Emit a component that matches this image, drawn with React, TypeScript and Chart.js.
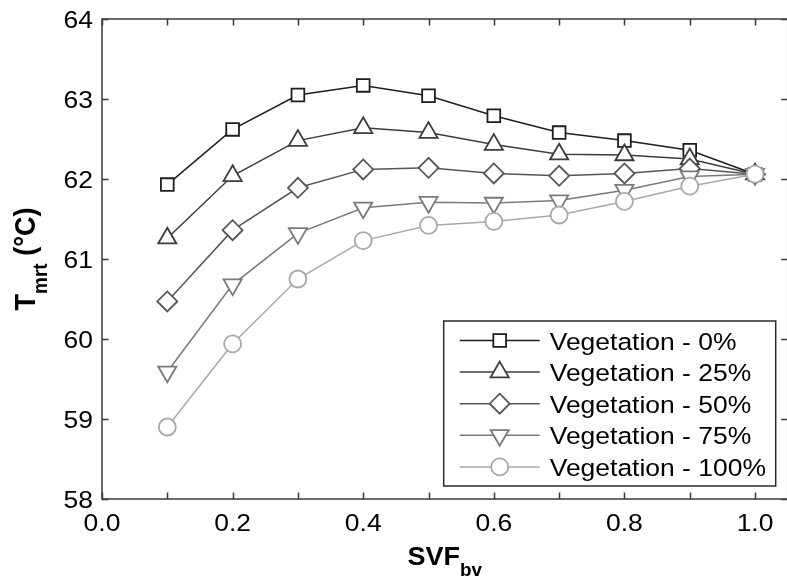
import React, { useEffect, useRef } from "react";
import { Chart, registerables } from "chart.js";

Chart.register(...registerables);

const svfValues = [0.1, 0.2, 0.3, 0.4, 0.5, 0.6, 0.7, 0.8, 0.9, 1.0];
const veg0 = [61.93, 62.62, 63.05, 63.17, 63.04, 62.79, 62.58, 62.48, 62.36, 62.06];
const veg25 = [61.26, 62.04, 62.48, 62.64, 62.58, 62.43, 62.31, 62.3, 62.25, 62.06];
const veg50 = [60.47, 61.36, 61.89, 62.12, 62.14, 62.07, 62.04, 62.07, 62.13, 62.06];
const veg75 = [59.59, 60.68, 61.32, 61.64, 61.71, 61.7, 61.73, 61.86, 62.03, 62.06];
const veg100 = [58.9, 59.94, 60.75, 61.23, 61.42, 61.47, 61.55, 61.72, 61.91, 62.06];

const seriesLabels = [
  "Vegetation - 0%",
  "Vegetation - 25%",
  "Vegetation - 50%",
  "Vegetation - 75%",
  "Vegetation - 100%",
];
const seriesValues = [veg0, veg25, veg50, veg75, veg100];
const seriesColors = ["#1e1e1e", "#3c3c3c", "#565656", "#7a7a7a", "#a9a9a9"];
const seriesMarkers = ["square", "triangle", "diamond", "down", "circle"];

const xTickValues = [0, 0.1, 0.2, 0.3, 0.4, 0.5, 0.6, 0.7, 0.8, 0.9, 1.0];
const xTickLabels = ["0.0", "", "0.2", "", "0.4", "", "0.6", "", "0.8", "", "1.0"];
const yTickValues = [58, 59, 60, 61, 62, 63, 64];
const yTickLabels = ["58", "59", "60", "61", "62", "63", "64"];

const FONT = "'Liberation Sans', Arial, Helvetica, sans-serif";
const STRETCH = 1.08;

function markerStyle(m: string) {
  switch (m) {
    case "square":
      return { pointStyle: "rect", radius: 9, rotation: 0 };
    case "triangle":
      return { pointStyle: "triangle", radius: 10.5, rotation: 0 };
    case "diamond":
      return { pointStyle: "rectRot", radius: 10, rotation: 0 };
    case "down":
      return { pointStyle: "triangle", radius: 10.5, rotation: 180 };
    default:
      return { pointStyle: "circle", radius: 8.5, rotation: 0 };
  }
}

function drawMarker(ctx: CanvasRenderingContext2D, m: string, x: number, y: number) {
  const s = markerStyle(m);
  const r = s.radius;
  ctx.beginPath();
  if (m === "square") {
    const h = Math.SQRT1_2 * r;
    ctx.rect(x - h, y - h, 2 * h, 2 * h);
  } else if (m === "triangle" || m === "down") {
    let a = m === "down" ? Math.PI : 0;
    ctx.moveTo(x + Math.sin(a) * r, y - Math.cos(a) * r);
    a += (2 * Math.PI) / 3;
    ctx.lineTo(x + Math.sin(a) * r, y - Math.cos(a) * r);
    a += (2 * Math.PI) / 3;
    ctx.lineTo(x + Math.sin(a) * r, y - Math.cos(a) * r);
    ctx.closePath();
  } else if (m === "diamond") {
    ctx.moveTo(x, y - r);
    ctx.lineTo(x + r, y);
    ctx.lineTo(x, y + r);
    ctx.lineTo(x - r, y);
    ctx.closePath();
  } else {
    ctx.arc(x, y, r, 0, Math.PI * 2);
  }
  ctx.fillStyle = "#ffffff";
  ctx.fill();
  ctx.stroke();
}

function stretchedText(
  ctx: CanvasRenderingContext2D,
  text: string,
  x: number,
  y: number,
  align: CanvasTextAlign,
  font: string
) {
  ctx.save();
  ctx.translate(x, y);
  ctx.scale(STRETCH, 1);
  ctx.font = font;
  ctx.textAlign = align;
  ctx.textBaseline = "alphabetic";
  ctx.fillStyle = "#000000";
  ctx.fillText(text, 0, 0);
  ctx.restore();
}

const framePlugin = {
  id: "framePlugin",
  afterDraw(chart: any) {
    const ctx = chart.ctx as CanvasRenderingContext2D;
    const ca = chart.chartArea;
    const xs = chart.scales.x;
    const ys = chart.scales.y;
    ctx.save();
    // frame
    ctx.strokeStyle = "#3a3a3a";
    ctx.lineWidth = 1.5;
    ctx.strokeRect(ca.left, ca.top, ca.right - ca.left, ca.bottom - ca.top);
    const tl = 6.5;
    ctx.beginPath();
    for (const v of xTickValues) {
      const px = Math.round(xs.getPixelForValue(v)) + 0.5;
      ctx.moveTo(px, ca.bottom);
      ctx.lineTo(px, ca.bottom - tl);
      ctx.moveTo(px, ca.top);
      ctx.lineTo(px, ca.top + tl);
    }
    for (const v of yTickValues) {
      const py = Math.round(ys.getPixelForValue(v)) + 0.5;
      ctx.moveTo(ca.left, py);
      ctx.lineTo(ca.left + tl, py);
      ctx.moveTo(ca.right, py);
      ctx.lineTo(ca.right - tl, py);
    }
    ctx.stroke();

    // tick labels
    const tickFont = `24.5px ${FONT}`;
    xTickValues.forEach((v, i) => {
      if (!xTickLabels[i]) return;
      stretchedText(ctx, xTickLabels[i], xs.getPixelForValue(v), ca.bottom + 32, "center", tickFont);
    });
    yTickValues.forEach((v, i) => {
      stretchedText(ctx, yTickLabels[i], ca.left - 9, ys.getPixelForValue(v) + 8.8, "right", tickFont);
    });

    // legend
    const boxRight = ca.right - 12;
    const boxBottom = ca.bottom - 13;
    const boxLeft = boxRight - 332;
    const boxTop = boxBottom - 165;
    ctx.fillStyle = "#ffffff";
    ctx.fillRect(boxLeft, boxTop, boxRight - boxLeft, boxBottom - boxTop);
    ctx.strokeStyle = "#2a2a2a";
    ctx.lineWidth = 1.5;
    ctx.strokeRect(boxLeft, boxTop, boxRight - boxLeft, boxBottom - boxTop);
    for (let i = 0; i < seriesLabels.length; i++) {
      const y = boxTop + 19.5 + i * 31.6;
      ctx.strokeStyle = seriesColors[i];
      ctx.lineWidth = 1.5;
      ctx.beginPath();
      ctx.moveTo(boxLeft + 16, y);
      ctx.lineTo(boxLeft + 96, y);
      ctx.stroke();
      ctx.lineWidth = 1.8;
      drawMarker(ctx, seriesMarkers[i], boxLeft + 56, y);
      stretchedText(ctx, seriesLabels[i], boxLeft + 106, y + 9, "left", `24.5px ${FONT}`);
    }

    // x axis title: SVF_bv
    const mainX = `bold 25px ${FONT}`;
    const subX = `bold 17.5px ${FONT}`;
    ctx.font = mainX;
    const wSVF = ctx.measureText("SVF").width * STRETCH;
    ctx.font = subX;
    const wbv = ctx.measureText("bv").width * STRETCH;
    const cx = (ca.left + ca.right) / 2;
    const startX = cx - (wSVF + wbv) / 2;
    stretchedText(ctx, "SVF", startX, 565, "left", mainX);
    stretchedText(ctx, "bv", startX + wSVF, 576, "left", subX);

    // y axis title: T_mrt (°C)
    const mainY = `bold 27px ${FONT}`;
    const subY = `bold 19px ${FONT}`;
    ctx.font = mainY;
    const wT = ctx.measureText("T").width;
    const wC = ctx.measureText(" (°C)").width;
    ctx.font = subY;
    const wm = ctx.measureText("mrt").width;
    const total = wT + wm + wC;
    const cy = (ca.top + ca.bottom) / 2;
    ctx.translate(35, cy);
    ctx.rotate(-Math.PI / 2);
    ctx.scale(1, STRETCH);
    ctx.fillStyle = "#000000";
    ctx.textAlign = "left";
    ctx.textBaseline = "alphabetic";
    let sx = -total / 2;
    ctx.font = mainY;
    ctx.fillText("T", sx, 0);
    sx += wT;
    ctx.font = subY;
    ctx.fillText("mrt", sx, 11);
    sx += wm;
    ctx.font = mainY;
    ctx.fillText(" (°C)", sx, 0);
    ctx.restore();
  },
};

export default function App() {
  const canvasRef = useRef<HTMLCanvasElement | null>(null);

  useEffect(() => {
    const canvas = canvasRef.current;
    if (!canvas) return;
    const datasets = seriesValues.map((vals, i) => {
      const ms = markerStyle(seriesMarkers[i]);
      return {
        label: seriesLabels[i],
        data: svfValues.map((x, j) => ({ x, y: vals[j] })),
        borderColor: seriesColors[i],
        borderWidth: 1.5,
        pointStyle: ms.pointStyle,
        pointRadius: ms.radius,
        pointRotation: ms.rotation,
        pointBackgroundColor: "#ffffff",
        pointBorderColor: seriesColors[i],
        pointBorderWidth: 1.8,
        fill: false,
        tension: 0,
        order: seriesValues.length - 1 - i,
      };
    });
    const chart = new Chart(canvas, {
      type: "line",
      data: { datasets },
      options: {
        animation: false,
        responsive: false,
        devicePixelRatio: 1,
        layout: { padding: { top: 19, right: 10, left: 0, bottom: 0 } },
        plugins: {
          legend: { display: false },
          tooltip: { enabled: false },
          title: { display: false },
        },
        scales: {
          x: {
            type: "linear",
            min: 0,
            max: 1.05,
            afterFit: (s: any) => {
              s.height = 81;
            },
            grid: { display: false, drawTicks: false },
            border: { display: false },
            ticks: { display: false, stepSize: 0.1, includeBounds: false },
          },
          y: {
            type: "linear",
            min: 58,
            max: 64,
            afterFit: (s: any) => {
              s.width = 102;
            },
            grid: { display: false, drawTicks: false },
            border: { display: false },
            ticks: { display: false, stepSize: 1 },
          },
        },
      },
      plugins: [framePlugin],
    } as any);
    return () => chart.destroy();
  }, []);

  return (
    <div
      style={{
        position: "fixed",
        left: 0,
        top: 0,
        width: 787,
        height: 580,
        overflow: "hidden",
        background: "#ffffff",
      }}
    >
      <canvas ref={canvasRef} width={800} height={580} style={{ display: "block" }} />
    </div>
  );
}
